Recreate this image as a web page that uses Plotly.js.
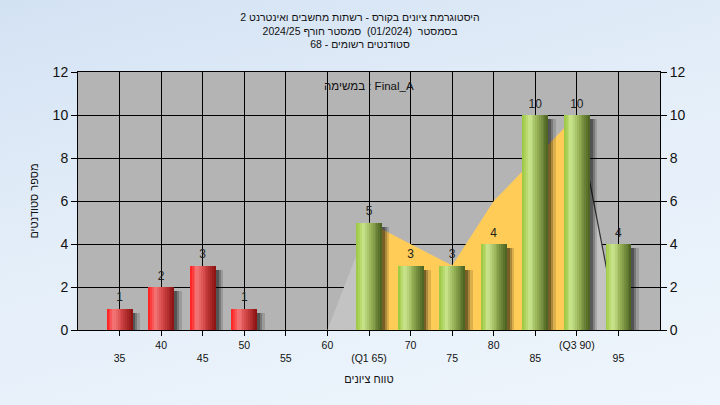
<!DOCTYPE html>
<html><head><meta charset="utf-8">
<script src="https://cdn.plot.ly/plotly-3.0.1.min.js"></script>
<style>
html,body{margin:0;padding:0;width:720px;height:405px;overflow:hidden;
background:linear-gradient(165deg,#d3e2f3 0%,#e4eef9 45%,#eef5fc 100%);}
#chart{width:720px;height:405px;}
</style>
</head><body><div id="chart"></div>
<script>
// ---- data ----
const scores = [35,40,45,50,55,60,65,70,75,80,85,90,95];
const counts = [1,2,3,1,0,0,5,3,3,4,10,10,4];
const tickLabels = ['35','40','45','50','55','60','(Q1 65)','70','75','80','85','(Q3 90)','95'];
const curveX = [60,65,70,75,80,85,90,95];
const curveY = [0,5,4,3,6,8,10,0];
const q1 = 65;
const q3 = 90;
const passMark = 60;
const titleLines = [
  'היסטוגרמת ציונים בקורס - רשתות מחשבים ואינטרנט 2',
  'בסמסטר  (01/2024)  סמסטר חורף 2024/25',
  'סטודנטים רשומים - 68'
];
const xTitle = 'טווח ציונים';
const yTitle = 'מספר סטודנטים';
const legendText = 'במשימה : Final_A';

// ---- styling helpers ----
const FONT = 'Liberation Sans, Arial, sans-serif';
const greenStops = [[0,[152,198,58]],[0.28,[205,230,144]],[0.55,[154,182,90]],[1,[72,94,30]]];
const redStops = [[0,[255,26,26]],[0.28,[244,122,122]],[0.55,[212,72,72]],[1,[138,16,16]]];
function grad(stops,t){
  for(let i=0;i<stops.length-1;i++){
    const [a,ca]=stops[i],[b,cb]=stops[i+1];
    if(t>=a&&t<=b){const f=(t-a)/(b-a);
      return 'rgb('+ca.map((c,k)=>Math.round(c+(cb[k]-c)*f)).join(',')+')';}
  }
  return 'rgb('+stops[stops.length-1][1].join(',')+')';
}
const barW = 3.1, N = 14;

const traces = [];
function segment(lo,hi){
  const xs=[],ys=[];
  curveX.forEach((x,i)=>{ if(x>=lo && x<=hi){xs.push(x);ys.push(curveY[i]);} });
  return {xs,ys};
}
const segL = segment(-Infinity,q1), segM = segment(q1,q3), segR = segment(q3,Infinity);
traces.push({type:'scatter',x:segL.xs,y:segL.ys,mode:'lines',fill:'tozeroy',
  fillcolor:'#c3c3c3',line:{width:0,color:'#c3c3c3'},hoverinfo:'skip',showlegend:false});
traces.push({type:'scatter',x:segM.xs,y:segM.ys,mode:'lines',fill:'tozeroy',
  fillcolor:'#ffcc58',line:{width:0,color:'#ffcc58'},hoverinfo:'skip',showlegend:false});
traces.push({type:'scatter',x:segR.xs,y:segR.ys,mode:'lines',fill:'tozeroy',
  fillcolor:'#c3c3c3',line:{width:1.2,color:'#303030'},hoverinfo:'skip',showlegend:false});

// shadows
[[0.9,0.14],[0.6,0.22],[0.35,0.3]].forEach(([dx,op])=>{
  traces.push({type:'bar',x:scores,y:counts.map(v=>Math.max(v-0.2,0)),yaxis:'y2',
    width:barW,offset:-barW/2+dx,marker:{color:'rgba(0,0,0,'+op+')',line:{width:0}},
    hoverinfo:'skip',showlegend:false});
});
// gradient slices
for(let i=0;i<N;i++){
  const t=(i+0.5)/N;
  traces.push({type:'bar',x:scores,y:counts,yaxis:'y2',width:barW/N+0.02,
    offset:-barW/2+i*barW/N,
    marker:{color:scores.map(s=>s<passMark?grad(redStops,t):grad(greenStops,t)),line:{width:0}},
    hoverinfo:'skip',showlegend:false});
}
// value labels
traces.push({type:'scatter',mode:'markers+text',x:scores,y:counts,yaxis:'y2',
  marker:{size:5,color:'rgba(0,0,0,0)'},
  text:counts.map(v=>v>0?String(v):''),textposition:'top center',
  textfont:{family:FONT,size:12,color:'#1e1e1e'},hoverinfo:'skip',showlegend:false,cliponaxis:false});

const tickText = tickLabels.map((t,i)=> i%2===0 ? '\u00a0<br>'+t : t);

const layout = {
  width:720,height:405,
  paper_bgcolor:'rgba(0,0,0,0)',plot_bgcolor:'#b4b4b4',
  margin:{l:78,r:60,t:72,b:75},
  barmode:'overlay',bargap:0,
  font:{family:FONT,color:'#111'},
  title:{text:titleLines.join('<br>'),x:0.5,xref:'container',y:0.948,yref:'container',
    yanchor:'top',font:{family:FONT,size:10.5,color:'#111'}},
  xaxis:{range:[30,100],tickvals:scores,ticktext:tickText,ticks:'outside',ticklen:5,
    tickcolor:'#000',showgrid:true,gridcolor:'#000',gridwidth:1,
    showline:true,linecolor:'#000',linewidth:1,mirror:true,zeroline:false,
    tickfont:{family:FONT,size:10.5,color:'#111'},
    title:{text:xTitle,font:{family:FONT,size:11,color:'#111'},standoff:12},automargin:false},
  yaxis:{range:[0,12],dtick:2,ticks:'outside',ticklen:6,tickcolor:'#000',
    showgrid:true,gridcolor:'#000',gridwidth:1,showline:true,linecolor:'#000',
    mirror:false,zeroline:false,tickfont:{family:FONT,size:14,color:'#111'},
    title:{text:yTitle,font:{family:FONT,size:11,color:'#111'},standoff:11},automargin:false},
  yaxis2:{range:[0,12],dtick:2,overlaying:'y',side:'right',ticks:'outside',ticklen:6,
    tickcolor:'#000',showgrid:false,zeroline:false,showline:true,linecolor:'#000',
    tickfont:{family:FONT,size:14,color:'#111'},automargin:false},
  annotations:[{text:legendText,xref:'paper',yref:'paper',x:0.5,y:1,yanchor:'top',
    yshift:-6,showarrow:false,font:{family:FONT,size:11.5,color:'#111'}}]
};
Plotly.newPlot('chart',traces,layout,{staticPlot:true,displayModeBar:false});
</script>
</body></html>
